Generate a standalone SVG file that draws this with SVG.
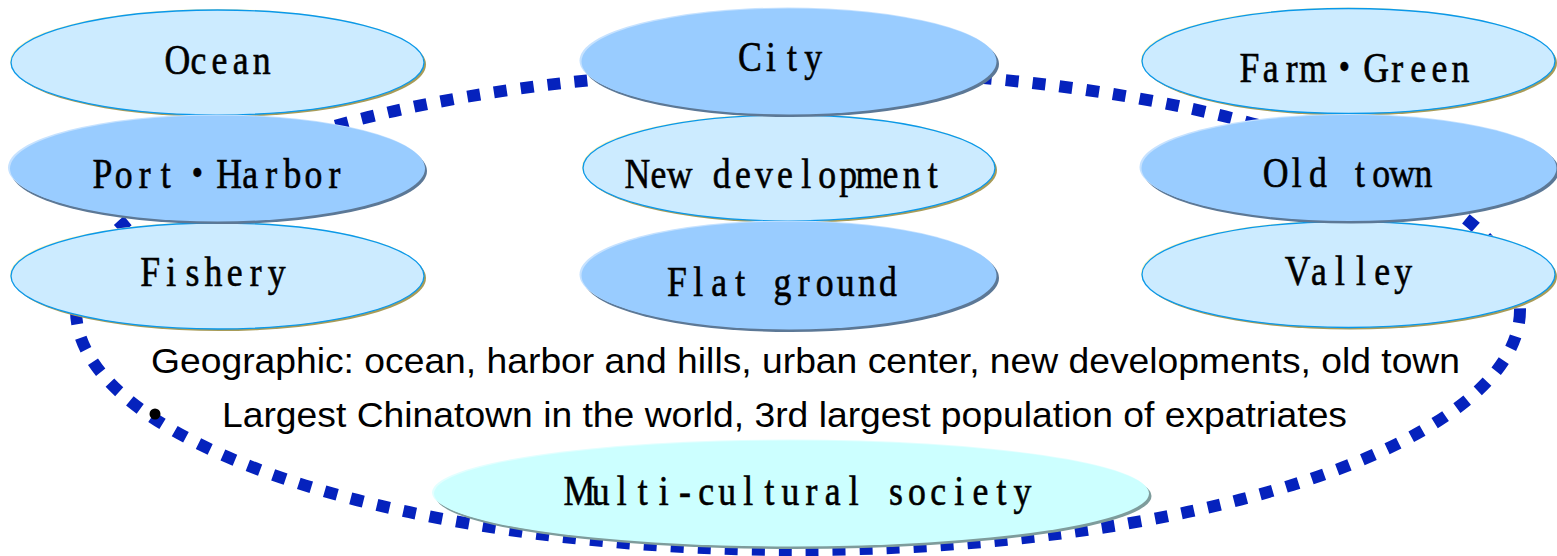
<svg xmlns="http://www.w3.org/2000/svg" width="1557" height="556" viewBox="0 0 1557 556">
<style>
.lt-sh{fill:#A89C58}
.lt-hl{fill:#FFF6B8}
.lt{fill:#CCEBFF;stroke:#0A98EA;stroke-width:1.3}
.dk-sh{fill:#5C7896}
.dk-hl{fill:#C6E2FF}
.dk{fill:#99CCFF}
.cy-sh{fill:#7E9C9C}
.cy-hl{fill:#E2FFFF}
.cy{fill:#CCFFFF}
.lbl{font-family:"Liberation Serif","Noto Sans CJK JP",serif;font-size:42px;fill:#000;stroke:#000;stroke-width:0.6;text-anchor:middle}
.body{font-family:"Liberation Sans",Arial,sans-serif;font-size:35px;fill:#000}
.loop{fill:none;stroke:#0522BD;stroke-width:12;stroke-dasharray:13 14}
</style>
<g id="connectors">
<ellipse class="loop" cx="798" cy="310" rx="722" ry="240"/>
</g>
<g id="ocean">
<ellipse class="lt-sh" cx="219.5" cy="64.5" rx="206.5" ry="52.5"/>
<ellipse class="lt-hl" cx="216.5" cy="61.5" rx="206.5" ry="52.5"/>
<ellipse class="lt" cx="217.5" cy="62.5" rx="206.5" ry="52.5"/>
<text class="lbl" transform="translate(219.5,74) scale(0.85,1)" x="-49.65 -24.82 0 24.82 49.65" y="0">Ocean</text>
</g>
<g id="fishery">
<ellipse class="lt-sh" cx="219.5" cy="278" rx="206.5" ry="53"/>
<ellipse class="lt-hl" cx="216.5" cy="275" rx="206.5" ry="53"/>
<ellipse class="lt" cx="217.5" cy="276" rx="206.5" ry="53"/>
<text class="lbl" transform="translate(213.5,286) scale(0.85,1)" x="-74.47 -49.65 -24.82 0 24.82 49.65 74.47" y="0">Fishery</text>
</g>
<g id="port-harbor">
<ellipse class="dk-sh" cx="219" cy="171" rx="208" ry="53"/>
<ellipse class="dk-hl" cx="216" cy="167.5" rx="208" ry="53"/>
<ellipse class="dk" cx="217.5" cy="168.5" rx="207.5" ry="53"/>
<text class="lbl" transform="translate(218.5,188) scale(0.85,1)" x="-136.5 -111.7 -86.88 -62.06 -24.82 12.41 37.24 62.06 86.88 111.7 136.5" y="0">Port・Harbor</text>
</g>
<g id="new-development">
<ellipse class="lt-sh" cx="791" cy="170" rx="206" ry="53"/>
<ellipse class="lt-hl" cx="788" cy="167" rx="206" ry="53"/>
<ellipse class="lt" cx="789" cy="168" rx="206" ry="53"/>
<text class="lbl" transform="translate(785,188) scale(0.85,1)" x="-173.8 -148.9 -124.1 -99.3 -74.47 -49.65 -24.82 0 24.82 49.65 74.47 99.3 124.1 148.9 173.8" y="0">New development</text>
</g>
<g id="city">
<ellipse class="dk-sh" cx="791" cy="64" rx="208" ry="53"/>
<ellipse class="dk-hl" cx="787.5" cy="60.5" rx="208" ry="53"/>
<ellipse class="dk" cx="789" cy="61.5" rx="207.5" ry="53"/>
<text class="lbl" transform="translate(781.5,71) scale(0.85,1)" x="-37.24 -12.41 12.41 37.24" y="0">City</text>
</g>
<g id="flat-ground">
<ellipse class="dk-sh" cx="791" cy="278" rx="208" ry="54"/>
<ellipse class="dk-hl" cx="787.5" cy="274.5" rx="208" ry="54"/>
<ellipse class="dk" cx="789" cy="275.5" rx="207.5" ry="54"/>
<text class="lbl" transform="translate(782.5,296) scale(0.85,1)" x="-124.1 -99.3 -74.47 -49.65 -24.82 0 24.82 49.65 74.47 99.3 124.1" y="0">Flat ground</text>
</g>
<g id="farm-green">
<ellipse class="lt-sh" cx="1350.5" cy="63" rx="206.5" ry="52.5"/>
<ellipse class="lt-hl" cx="1347.5" cy="60" rx="206.5" ry="52.5"/>
<ellipse class="lt" cx="1348.5" cy="61" rx="206.5" ry="52.5"/>
<text class="lbl" transform="translate(1355,82) scale(0.85,1)" x="-124.1 -99.3 -74.47 -49.65 -12.41 24.82 49.65 74.47 99.3 124.1" y="0">Farm・Green</text>
</g>
<g id="valley">
<ellipse class="lt-sh" cx="1350.5" cy="276.5" rx="206.5" ry="53"/>
<ellipse class="lt-hl" cx="1347.5" cy="273.5" rx="206.5" ry="53"/>
<ellipse class="lt" cx="1348.5" cy="274.5" rx="206.5" ry="53"/>
<text class="lbl" transform="translate(1350.5,285) scale(0.85,1)" x="-62.06 -37.24 -12.41 12.41 37.24 62.06" y="0">Valley</text>
</g>
<g id="old-town">
<ellipse class="dk-sh" cx="1351" cy="170.5" rx="208" ry="53"/>
<ellipse class="dk-hl" cx="1347.5" cy="167" rx="208" ry="53"/>
<ellipse class="dk" cx="1349" cy="168" rx="207.5" ry="53"/>
<text class="lbl" transform="translate(1349.5,187) scale(0.85,1)" x="-86.88 -62.06 -37.24 -12.41 12.41 37.24 62.06 86.88" y="0">Old town</text>
</g>
<g id="multi-cultural-society">
<ellipse class="cy-sh" cx="793.5" cy="496" rx="358" ry="53"/>
<ellipse class="cy-hl" cx="790" cy="492.5" rx="358" ry="53"/>
<ellipse class="cy" cx="791.5" cy="493.5" rx="357.5" ry="53"/>
<text class="lbl" transform="translate(801,505) scale(0.85,1)" x="-260.6 -235.8 -211 -186.2 -161.4 -136.5 -111.7 -86.88 -62.06 -37.24 -12.41 12.41 37.24 62.06 86.88 111.7 136.5 161.4 186.2 211 235.8 260.6" y="0">Multi-cultural society</text>
</g>
<g id="notes">
<text class="body" x="151" y="373" textLength="1309" lengthAdjust="spacingAndGlyphs">Geographic: ocean, harbor and hills, urban center, new developments, old town</text>
<circle cx="155" cy="414" r="5.5" fill="#000"/>
<text class="body" x="222" y="427" textLength="1125" lengthAdjust="spacingAndGlyphs">Largest Chinatown in the world, 3rd largest population of expatriates</text>
</g>
</svg>
